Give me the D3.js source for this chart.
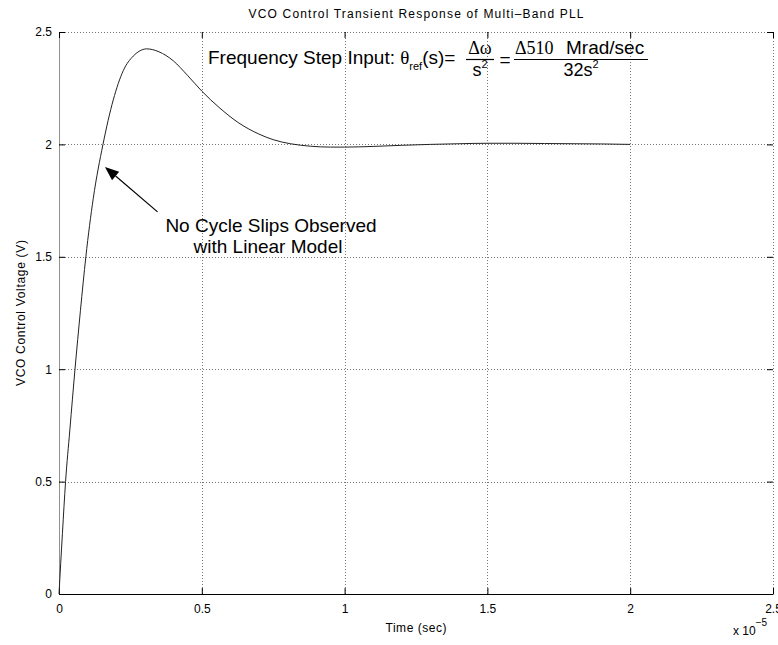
<!DOCTYPE html>
<html>
<head>
<meta charset="utf-8">
<script src="https://cdn.jsdelivr.net/npm/d3@7"></script>
<style>
  html, body { margin: 0; padding: 0; background: #fff; }
  svg { display: block; }
  text { font-family: "Liberation Sans", Arial, Helvetica, sans-serif; fill: #000; }
  .serif { font-family: "Liberation Serif", "Times New Roman", serif; }
</style>
</head>
<body>
<svg id="chart" width="778" height="645"></svg>
<script>
// Time axis in units of 1e-5 s, VCO control voltage in volts
const timeE5 = [0, 0.012, 0.023, 0.038, 0.056, 0.075, 0.094, 0.12, 0.154, 0.19, 0.225, 0.26, 0.28,
  0.307, 0.35, 0.40, 0.45, 0.50, 0.56, 0.63, 0.70, 0.75, 0.81, 0.88, 0.95, 1.0, 1.1, 1.2,
  1.3, 1.4, 1.5, 1.6, 1.7, 1.8, 1.9, 2.0];
const voltage = [0, 0.27, 0.50, 0.73, 1.00, 1.26, 1.50, 1.76, 2.00, 2.198, 2.328, 2.393, 2.414,
  2.425, 2.412, 2.372, 2.307, 2.237, 2.165, 2.095, 2.046, 2.021, 2.003, 1.992, 1.988, 1.988, 1.991, 1.996,
  2.0, 2.003, 2.005, 2.005, 2.004, 2.003, 2.002, 2.0];

const xTicks = [0, 0.5, 1, 1.5, 2, 2.5];
const yTicks = [0, 0.5, 1, 1.5, 2, 2.5];
const xTickLabels = ["0", "0.5", "1", "1.5", "2", "2.5"];
const yTickLabels = ["0", "0.5", "1", "1.5", "2", "2.5"];

const titleText = "VCO Control Transient Response of Multi\u2013Band PLL";
const xLabel = "Time (sec)";
const yLabel = "VCO Control Voltage (V)";
const noteLines = ["No Cycle Slips Observed", "with Linear Model"];

const svg = d3.select("#chart");
const L = 59, R = 773, T = 32, B = 594;

const x = d3.scaleLinear().domain([0, 2.5]).range([L, R]);
const y = d3.scaleLinear().domain([0, 2.5]).range([B, T]);

svg.append("rect").attr("width", 778).attr("height", 645).attr("fill", "#fff");

// dotted grid
const grid = svg.append("g").attr("stroke", "#777").attr("stroke-width", 1)
  .attr("stroke-dasharray", "1,2").attr("shape-rendering", "crispEdges");
grid.selectAll("line.v").data(xTicks.filter(d => d > 0)).join("line")
  .attr("x1", d => Math.round(x(d)) + 0.5).attr("x2", d => Math.round(x(d)) + 0.5)
  .attr("y1", T).attr("y2", B);
grid.selectAll("line.h").data(yTicks.filter(d => d > 0)).join("line")
  .attr("x1", L).attr("x2", R)
  .attr("y1", d => Math.round(y(d)) + 0.5).attr("y2", d => Math.round(y(d)) + 0.5);

// axes with inward ticks
const fmtX = (d, i) => xTickLabels[i];
const fmtY = (d, i) => yTickLabels[i];

const gB = svg.append("g").attr("transform", `translate(0,${B})`)
  .call(d3.axisBottom(x).tickValues(xTicks).tickFormat(fmtX).tickSizeInner(-6).tickSizeOuter(0).tickPadding(10));
const gL = svg.append("g").attr("transform", `translate(${L},0)`)
  .call(d3.axisLeft(y).tickValues(yTicks).tickFormat(fmtY).tickSizeInner(-6).tickSizeOuter(0).tickPadding(7));
const gT = svg.append("g").attr("transform", `translate(0,${T})`)
  .call(d3.axisTop(x).tickValues(xTicks).tickFormat("").tickSizeInner(-6).tickSizeOuter(0));
const gR = svg.append("g").attr("transform", `translate(${R},0)`)
  .call(d3.axisRight(y).tickValues(yTicks).tickFormat("").tickSizeInner(-6).tickSizeOuter(0));

[gB, gL, gT, gR].forEach(g => {
  g.selectAll("text").style("font-size", "12px").attr("font-family", null);
  g.selectAll(".tick line").attr("stroke", "#000");
});
gT.select(".domain").remove();
gR.select(".domain").remove();
gB.select(".domain").attr("stroke", "#000").attr("stroke-width", 1);
gL.select(".domain").attr("stroke", "#222").attr("stroke-dasharray", "1,1");

// response curve
const pts = timeE5.map((t, i) => [t, voltage[i]]);
svg.append("path").datum(pts)
  .attr("fill", "none").attr("stroke", "#222").attr("stroke-width", 1)
  .attr("d", d3.line().x(d => x(d[0])).y(d => y(d[1])).curve(d3.curveMonotoneX));

// title and axis labels
svg.append("text").attr("x", (L + R) / 2).attr("y", 18).attr("text-anchor", "middle")
  .style("font-size", "12px").attr("textLength", 335).attr("lengthAdjust", "spacing").text(titleText);
svg.append("text").attr("x", (L + R) / 2).attr("y", 632).attr("text-anchor", "middle")
  .style("font-size", "12px").attr("textLength", 61).attr("lengthAdjust", "spacing").text(xLabel);
svg.append("text").attr("transform", `translate(25,${(T + B) / 2}) rotate(-90)`).attr("text-anchor", "middle")
  .style("font-size", "12px").attr("textLength", 146).attr("lengthAdjust", "spacing").text(yLabel);

// exponent of the time axis
const ex = svg.append("text").attr("x", 733).attr("y", 635).style("font-size", "12px");
ex.append("tspan").text("x 10");
ex.append("tspan").attr("dy", -9).style("font-size", "10px").text("\u22125");

// formula annotation
const f = svg.append("text").attr("x", 208).attr("y", 63.5).style("font-size", "19px");
f.append("tspan").text("Frequency Step Input: ");
f.append("tspan").attr("class", "serif").text("\u03b8");
f.append("tspan").attr("dy", 6).style("font-size", "11px").text("ref");
f.append("tspan").attr("dy", -6).text("(s)=");

// first fraction
svg.append("text").attr("class", "serif").attr("x", 480).attr("y", 54).attr("text-anchor", "middle")
  .style("font-size", "18px").text("\u0394\u03c9");
svg.append("line").attr("x1", 466).attr("x2", 494).attr("y1", 59.5).attr("y2", 59.5)
  .attr("stroke", "#000").attr("stroke-width", 1.2);
const d1 = svg.append("text").attr("x", 480).attr("y", 76).attr("text-anchor", "middle").style("font-size", "18px");
d1.append("tspan").text("s");
d1.append("tspan").attr("dy", -8).style("font-size", "11px").text("2");

svg.append("text").attr("x", 505).attr("y", 66).attr("text-anchor", "middle").style("font-size", "19px").text("=");

// second fraction
const n2 = svg.append("text").attr("x", 515).attr("y", 54).style("font-size", "18px");
n2.append("tspan").attr("class", "serif").text("\u0394510");
n2.append("tspan").attr("x", 566).style("font-size", "19px").text("Mrad/sec");
svg.append("line").attr("x1", 514).attr("x2", 648).attr("y1", 59.5).attr("y2", 59.5)
  .attr("stroke", "#000").attr("stroke-width", 1.2);
const d2 = svg.append("text").attr("x", 581).attr("y", 76).attr("text-anchor", "middle").style("font-size", "18px");
d2.append("tspan").text("32s");
d2.append("tspan").attr("dy", -8).style("font-size", "11px").text("2");

// arrow annotation pointing at the rising edge
const tip = [x(0.161), y(1.90)], tail = [x(0.345), y(1.70)];
const ang = Math.atan2(tip[1] - tail[1], tip[0] - tail[0]);
const hl = 14, hw = 5.5;
const base = [tip[0] - hl * Math.cos(ang), tip[1] - hl * Math.sin(ang)];
svg.append("line").attr("x1", tail[0]).attr("y1", tail[1]).attr("x2", base[0]).attr("y2", base[1])
  .attr("stroke", "#000").attr("stroke-width", 1.2);
svg.append("polygon").attr("fill", "#000").attr("points", [
  tip,
  [base[0] + hw * Math.sin(ang), base[1] - hw * Math.cos(ang)],
  [base[0] - hw * Math.sin(ang), base[1] + hw * Math.cos(ang)]
].map(p => p.join(",")).join(" "));

svg.append("text").attr("x", 271).attr("y", 232).attr("text-anchor", "middle").style("font-size", "19px").text(noteLines[0]);
svg.append("text").attr("x", 268).attr("y", 253).attr("text-anchor", "middle").style("font-size", "19px").text(noteLines[1]);
</script>
</body>
</html>
